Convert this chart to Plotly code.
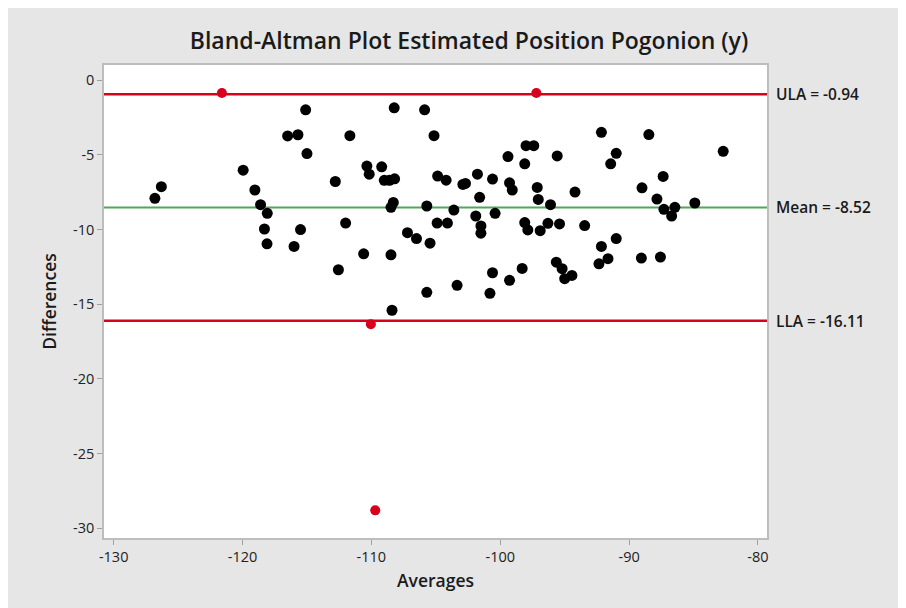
import plotly.graph_objects as go

# Data
avg_black = [-126.3, -126.8, -119.95, -119.04, -118.6, -118.08, -118.3, -118.1, -116.5, -115.7,
             -115.1, -115.0, -115.5, -116.0, -112.8, -112.0, -112.56, -111.67, -110.35, -110.17,
             -110.6, -109.2, -109.0, -108.6, -108.2, -108.48, -108.3, -108.23, -108.48, -108.4,
             -107.2, -106.5, -105.87, -105.7, -105.45, -105.7, -105.14, -104.86, -104.2, -104.9,
             -104.1, -103.6, -103.35, -102.9, -102.7, -101.77, -101.6, -101.9, -101.5, -101.5,
             -100.6, -100.4, -100.6, -100.8, -99.4, -99.28, -99.07, -99.28, -98.0, -97.4,
             -98.1, -98.1, -97.86, -98.3, -97.13, -97.05, -96.9, -96.3, -96.1, -95.4,
             -95.58, -95.65, -95.2, -95.0, -94.44, -94.2, -93.45, -92.15, -92.15, -92.34,
             -91.64, -91.0, -91.43, -91.0, -89.0, -89.05, -88.47, -87.84, -87.36, -87.3,
             -86.7, -86.45, -87.57, -84.9, -82.7]
diff_black = [-7.13, -7.91, -6.02, -7.35, -8.33, -8.91, -9.96, -10.95, -3.73, -3.65,
              -1.98, -4.91, -10.0, -11.13, -6.78, -9.56, -12.69, -3.71, -5.75, -6.29,
              -11.62, -5.8, -6.7, -6.7, -6.6, -8.51, -8.18, -1.85, -11.69, -15.4,
              -10.21, -10.6, -1.98, -8.42, -10.91, -14.2, -3.71, -6.42, -6.69, -9.56,
              -9.56, -8.69, -13.73, -6.98, -6.91, -6.29, -7.84, -9.09, -9.76, -10.24,
              -6.62, -8.91, -12.89, -14.27, -5.11, -6.87, -7.35, -13.4, -4.38, -4.38,
              -5.6, -9.53, -10.02, -12.6, -7.18, -7.98, -10.07, -9.58, -8.33, -9.62,
              -5.07, -12.18, -12.62, -13.29, -13.07, -7.49, -9.73, -3.49, -11.13, -12.29,
              -11.95, -4.89, -5.6, -10.6, -7.2, -11.91, -3.64, -7.96, -6.44, -8.64,
              -9.09, -8.51, -11.84, -8.22, -4.76]
avg_red = [-121.6, -97.2, -110.04, -109.7]
diff_red = [-0.85, -0.85, -16.33, -28.8]

ULA = -0.94
MEAN = -8.52
LLA = -16.11
x_ticks = [-130, -120, -110, -100, -90, -80]
y_ticks = [0, -5, -10, -15, -20, -25, -30]

RED = "#d9001b"
GREEN = "#4fa85a"
FONT = "Open Sans, Noto Sans, sans-serif"
TXT = "#1a1a1a"

fig = go.Figure()
fig.add_trace(go.Scatter(x=avg_black, y=diff_black, mode="markers",
                         marker=dict(color="black", size=11), showlegend=False))
fig.add_trace(go.Scatter(x=avg_red, y=diff_red, mode="markers",
                         marker=dict(color=RED, size=10), showlegend=False))

for val, col, w, label in [(ULA, RED, 2.5, f"ULA = {ULA:.2f}"),
                           (MEAN, GREEN, 2, f"Mean = {MEAN:.2f}"),
                           (LLA, RED, 2.5, f"LLA = {LLA:.2f}")]:
    fig.add_shape(type="line", xref="paper", x0=0, x1=1, yref="y", y0=val, y1=val,
                  line=dict(color=col, width=w), layer="below")
    fig.add_annotation(xref="paper", x=1, yref="y", y=val, text=label, showarrow=False,
                       xanchor="left", xshift=7,
                       font=dict(size=15.5, color=TXT, family=FONT, weight=600))

W, H = 898, 600
ml, mr, mt, mb = 96, 139, 57, 70

fig.update_layout(
    width=W, height=H,
    margin=dict(l=ml, r=mr, t=mt, b=mb),
    paper_bgcolor="#e6e6e6", plot_bgcolor="white",
    title=dict(text="Bland-Altman Plot Estimated Position Pogonion (y)", x=461 / W, xanchor="center",
               xref="container",
               y=1 - 33 / H, yanchor="middle",
               font=dict(size=23, color=TXT, family=FONT, weight=600)),
    font=dict(family=FONT, color="#333333"),
    xaxis=dict(range=[-130.75, -79.3], tickvals=x_ticks, ticktext=[str(v) for v in x_ticks],
               ticks="outside", ticklen=5,
               tickcolor="#a0a0a0", showgrid=False, zeroline=False, showline=True,
               linecolor="#bdbdbd", linewidth=1.5, mirror=True,
               tickfont=dict(size=14.5, color="#222222"),
               title=dict(text="Averages", font=dict(size=17.5, color=TXT, weight=600), standoff=10)),
    yaxis=dict(range=[-30.65, 1.02], tickvals=y_ticks, ticktext=[str(v) for v in y_ticks],
               ticks="outside", ticklen=5,
               tickcolor="#a0a0a0", showgrid=False, zeroline=False, showline=True,
               linecolor="#bdbdbd", linewidth=1.5, mirror=True,
               tickfont=dict(size=14.5, color="#222222"),
               title=dict(text="Differences", font=dict(size=17.5, color=TXT, weight=600), standoff=12)),
)

fig.write_html("out.html")
